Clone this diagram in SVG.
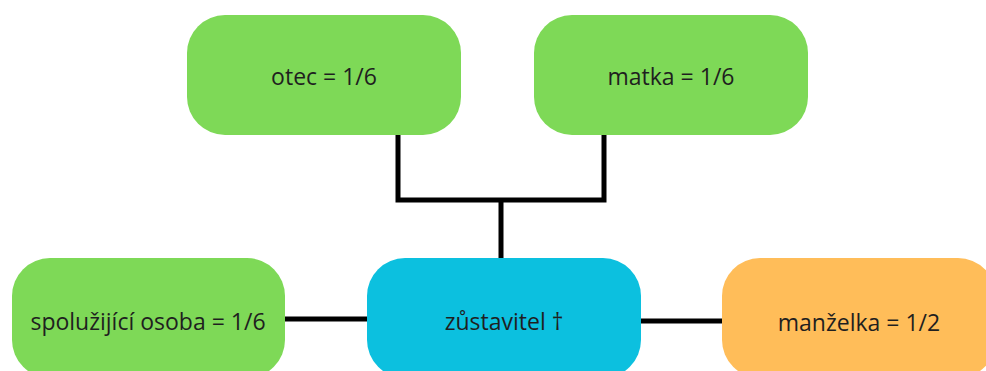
<svg xmlns="http://www.w3.org/2000/svg" width="986" height="371" viewBox="0 0 986 371">
  <style>
    .box { stroke: none; }
    .green { fill: #7ED957; }
    .blue { fill: #0CC0DF; }
    .orange { fill: #FFBD59; }
    .label { font-family: "Open Sans", "Noto Sans", sans-serif; font-size: 23px; fill: #1f1f1f; text-anchor: middle; dominant-baseline: central; }
    .link { fill: none; stroke: #000; stroke-width: 5; stroke-linejoin: miter; stroke-linecap: butt; }
  </style>
  <rect width="986" height="371" fill="#ffffff"/>

  <!-- connectors -->
  <g id="connectors">
    <polyline class="link" points="398,135 398,200 604,200 604,135"/>
    <line class="link" x1="501" y1="200" x2="501" y2="258"/>
    <line class="link" x1="285" y1="319" x2="367" y2="319"/>
    <line class="link" x1="641" y1="321" x2="722" y2="321"/>
  </g>

  <g id="otec">
    <rect class="box green" x="187" y="15" width="274" height="120" rx="38"/>
    <text class="label" x="324" y="76">otec = 1/6</text>
  </g>

  <g id="matka">
    <rect class="box green" x="534" y="15" width="274" height="120" rx="38"/>
    <text class="label" x="671" y="76">matka = 1/6</text>
  </g>

  <g id="spoluzijici-osoba">
    <rect class="box green" x="12" y="258" width="273" height="120" rx="38"/>
    <text class="label" x="148" y="321">spolužijící osoba = 1/6</text>
  </g>

  <g id="zustavitel">
    <rect class="box blue" x="367" y="258" width="274" height="120" rx="38"/>
    <text class="label" x="504" y="321">zůstavitel †</text>
  </g>

  <g id="manzelka">
    <rect class="box orange" x="722" y="258" width="274" height="120" rx="38"/>
    <text class="label" x="859" y="322">manželka = 1/2</text>
  </g>
</svg>
